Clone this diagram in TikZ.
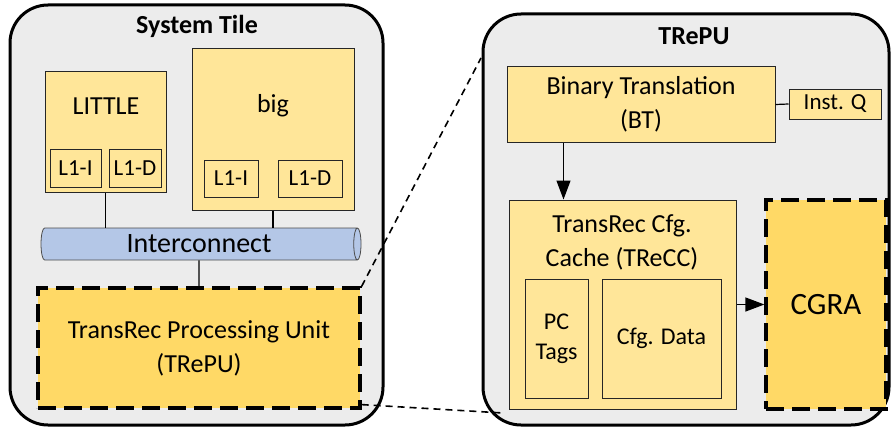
\documentclass[tikz,border=0pt]{standalone}
\usepackage{fontspec}
\setmainfont{Carlito}
\usetikzlibrary{shapes.geometric,arrows.meta}
\definecolor{tgray}{RGB}{236,236,236}
\definecolor{lyellow}{RGB}{255,230,153}
\definecolor{dyellow}{RGB}{255,217,102}
\definecolor{iblue}{RGB}{180,199,231}
\tikzset{
  px/.style={x=1pt,y=-1pt},
  tile/.style={draw=black,line width=3pt,fill=tgray,rounded corners=38pt,inner sep=0pt},
  blk/.style={draw=black!85,line width=1pt,fill=lyellow,inner sep=0pt,align=center,font=\fontsize{26}{34}\selectfont},
  unit/.style={blk,draw=black,fill=dyellow,line width=3.2pt,dash pattern=on 18pt off 8pt},
  small/.style={font=\fontsize{23}{30}\selectfont},
  ttl/.style={font=\fontsize{26}{30}\selectfont\bfseries},
  lbl/.style={font=\fontsize{26}{30}\selectfont},
  wire/.style={draw=black,line width=1.2pt},
  arr/.style={wire,-{Triangle[length=19pt,width=14pt]}},
  zoomln/.style={draw=black,line width=1.6pt,dash pattern=on 7pt off 5pt}
}

\begin{document}
\begin{tikzpicture}[px]
  \useasboundingbox (0,0) rectangle (891,428);
  % system tile
  \node[tile,minimum width=373pt,minimum height=420pt] (systile) at (196.5,215) {};
  \node[ttl] (systitle) at (197,26) {System Tile};
  \node[blk,minimum width=121pt,minimum height=121pt] (little) at (105.5,131.5) {};
  \node[lbl] (littletxt) at (106,106) {LITTLE};
  \node[blk,small,minimum width=51pt,minimum height=38pt] (littlei) at (75.5,168) {L1-I};
  \node[blk,small,minimum width=52pt,minimum height=38pt] (littled) at (135,168) {L1-D};
  \node[blk,minimum width=162pt,minimum height=161pt] (big) at (273,129.5) {};
  \node[lbl] (bigtxt) at (273,106) {big};
  \node[blk,small,minimum width=54pt,minimum height=37pt] (bigi) at (231,178.5) {L1-I};
  \node[blk,small,minimum width=64pt,minimum height=37pt] (bigd) at (310,178.5) {L1-D};
  \node[cylinder,draw=black!70,line width=0.8pt,fill=iblue,shape aspect=0.4,
        minimum height=320pt,minimum width=32pt,inner sep=0pt,
        font=\fontsize{28}{30}\selectfont] (ic) at (199,244) {Interconnect};
  \node[unit,minimum width=322pt,minimum height=120pt] (trepu) at (199,348)
       {TransRec Processing Unit\\(TRePU)};
  \draw[wire] (little.south) -- (little.south |- ic.north);
  \draw[wire] (big.south) -- (big.south |- ic.north);
  \draw[wire] (ic.south) -- (trepu.north);

  % TRePU detail
  \node[tile,minimum width=406pt,minimum height=411pt] (rtile) at (686,219.5) {};
  \node[ttl] (rtitle) at (694,36) {TRePU};
  \node[blk,minimum width=268pt,minimum height=75pt] (bt) at (641,104.5)
       {Binary Translation\\(BT)};
  \node[blk,small,minimum width=92pt,minimum height=30pt] (instq) at (835,104) {Inst. Q};
  \node[blk,minimum width=227pt,minimum height=209pt] (trecc) at (622.5,304.5) {};
  \node[lbl,align=center,font=\fontsize{26}{34}\selectfont] (trecctxt) at (622,242)
       {TransRec Cfg.\\Cache (TReCC)};
  \node[blk,font=\fontsize{24}{30}\selectfont,minimum width=63pt,minimum height=119pt] (pctags) at (556.5,338.5) {PC\\Tags};
  \node[blk,font=\fontsize{24}{30}\selectfont,minimum width=119pt,minimum height=119pt] (cfgdata) at (661.5,338.5) {Cfg. Data};
  \node[unit,font=\fontsize{31}{34}\selectfont,minimum width=120pt,minimum height=209pt] (cgra) at (826,304.5) {CGRA};
  \draw[wire] (bt.east) -- (instq.west);
  \coordinate (btout) at ([xshift=57pt]bt.south west);
  \draw[arr] (btout) -- (btout |- trecc.north);
  \draw[arr] (trecc.east) -- (cgra.west);

  % zoom lines
  \coordinate (zt) at (481,58);
  \coordinate (zb) at (503,413);
  \draw[zoomln] (trepu.north east) -- (zt);
  \draw[zoomln] ([yshift=5pt]trepu.south east) -- (zb);
\end{tikzpicture}
\end{document}
